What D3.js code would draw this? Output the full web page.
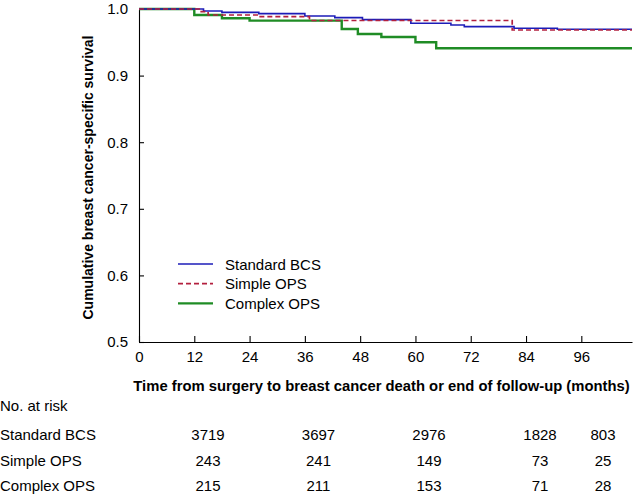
<!DOCTYPE html>
<html>
<head>
<meta charset="utf-8">
<script src="https://cdn.jsdelivr.net/npm/d3@7"></script>
<style>
  html, body { margin: 0; padding: 0; background: #fff; }
  svg { display: block; font-family: "Liberation Sans", Arial, Helvetica, sans-serif; }
</style>
</head>
<body>
<svg id="chart" width="637" height="496"></svg>
<script>
// ---- Data ----
const seriesNames = ["Standard BCS", "Simple OPS", "Complex OPS"];

const bcsTime = [0, 14, 18, 26, 36, 42.5, 48.5, 59, 67.7, 70.6, 81.4, 90.8, 107];
const bcsSurv = [1.0, 0.997, 0.995, 0.993, 0.9895, 0.987, 0.984, 0.9785, 0.976, 0.9735, 0.971, 0.9695, 0.9695];

const simpleTime = [0, 13.5, 15, 26, 37, 81, 107];
const simpleSurv = [1.0, 0.996, 0.991, 0.9885, 0.9827, 0.9685, 0.9685];

const complexTime = [0, 12, 18, 24, 44, 47.5, 52.6, 60, 64.5, 107];
const complexSurv = [1.0, 0.991, 0.986, 0.9825, 0.970, 0.9625, 0.958, 0.950, 0.941, 0.941];

const xTicks = [0, 12, 24, 36, 48, 60, 72, 84, 96];
const yTicks = [0.5, 0.6, 0.7, 0.8, 0.9, 1.0];

const riskMonths = [0, 24, 48, 72, 96];
const riskBCS = [3719, 3697, 2976, 1828, 803];
const riskSimple = [243, 241, 149, 73, 25];
const riskComplex = [215, 211, 153, 71, 28];

// ---- Layout ----
const svg = d3.select("#chart");
const x = d3.scaleLinear().domain([0, 107]).range([139, 632]);
const y = d3.scaleLinear().domain([0.5, 1.0]).range([342, 9]);

const styles = [
  { color: "#1c1cb8", width: 1.6, dash: null },
  { color: "#b3203f", width: 1.7, dash: "5,3" },
  { color: "#1f8c25", width: 2.4, dash: null }
];

const series = [
  { name: seriesNames[0], t: bcsTime, s: bcsSurv },
  { name: seriesNames[1], t: simpleTime, s: simpleSurv },
  { name: seriesNames[2], t: complexTime, s: complexSurv }
];

// ---- Axes ----
const xAxis = d3.axisBottom(x).tickValues(xTicks).tickSize(-6).tickPadding(9).tickSizeOuter(0).tickFormat(d3.format("d"));
const yAxis = d3.axisLeft(y).tickValues(yTicks).tickSize(-5).tickPadding(11).tickSizeOuter(0).tickFormat(d3.format(".1f"));

const gx = svg.append("g").attr("transform", `translate(0,${y(0.5)})`).call(xAxis);
const gy = svg.append("g").attr("transform", `translate(${x(0)},0)`).call(yAxis);
[gx, gy].forEach(g => {
  g.select(".domain").attr("stroke", "#000").attr("stroke-width", 1.1);
  g.selectAll(".tick line").attr("stroke", "#000").attr("stroke-width", 1.1);
  g.selectAll(".tick text").attr("fill", "#000").attr("font-size", 15).attr("font-family", "Liberation Sans, Arial, sans-serif");
});
gy.selectAll(".tick").filter(d => d === 1.0).select("line").remove();

// ---- Curves ----
const line = d3.line().x(d => x(d[0])).y(d => y(d[1])).curve(d3.curveStepAfter);
[2, 0, 1].forEach(i => {
  const sr = series[i];
  const pts = sr.t.map((t, k) => [t, sr.s[k]]);
  svg.append("path")
    .datum(pts)
    .attr("d", line)
    .attr("fill", "none")
    .attr("stroke", styles[i].color)
    .attr("stroke-width", styles[i].width)
    .attr("stroke-dasharray", styles[i].dash);
});

// ---- Legend ----
const legend = svg.append("g");
seriesNames.forEach((n, i) => {
  const yy = 264 + i * 19.7;
  legend.append("line")
    .attr("x1", 178).attr("x2", 213).attr("y1", yy).attr("y2", yy)
    .attr("stroke", styles[i].color).attr("stroke-width", styles[i].width)
    .attr("stroke-dasharray", styles[i].dash);
  legend.append("text")
    .attr("x", 225).attr("y", yy + 5.5)
    .attr("font-size", 15).attr("fill", "#000")
    .text(n);
});

// ---- Axis titles ----
svg.append("text")
  .attr("transform", "translate(93,177.5) rotate(-90)")
  .attr("text-anchor", "middle")
  .attr("font-size", 14).attr("font-weight", "bold").attr("fill", "#000")
  .text("Cumulative breast cancer-specific survival");

svg.append("text")
  .attr("x", 381.5).attr("y", 391)
  .attr("text-anchor", "middle")
  .attr("font-size", 14.8).attr("font-weight", "bold").attr("fill", "#000")
  .text("Time from surgery to breast cancer death or end of follow-up (months)");

// ---- Risk table ----
const riskX = d3.scaleOrdinal().domain(riskMonths).range([208, 318.5, 429, 540, 603]);
svg.append("text").attr("x", 0).attr("y", 411).attr("font-size", 15).attr("fill", "#000").text("No. at risk");
const riskRows = [riskBCS, riskSimple, riskComplex];
const rowY = [440, 465.5, 490.5];
riskRows.forEach((row, r) => {
  svg.append("text").attr("x", 0).attr("y", rowY[r]).attr("font-size", 15).attr("fill", "#000").text(seriesNames[r]);
  row.forEach((v, c) => {
    svg.append("text")
      .attr("x", riskX(riskMonths[c])).attr("y", rowY[r])
      .attr("text-anchor", "middle")
      .attr("font-size", 15).attr("fill", "#000")
      .text(v);
  });
});
</script>
</body>
</html>
